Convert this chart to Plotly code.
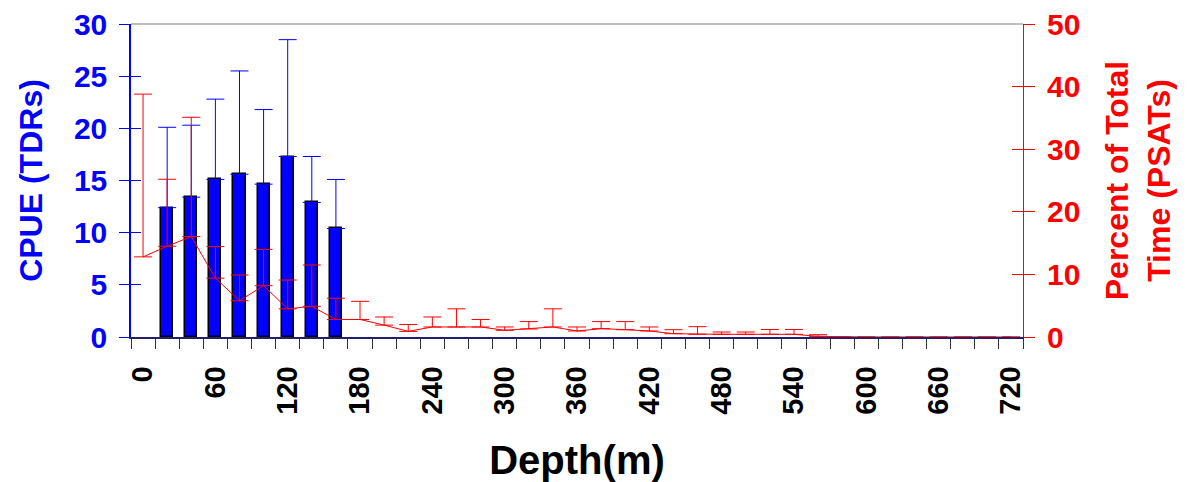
import plotly.graph_objects as go

# ---- data ----
depths = list(range(0, 721, 20))  # depth bins (m)

bar_depths = [20, 40, 60, 80, 100, 120, 140, 160]
cpue_tdr = [12.4, 13.4, 15.1, 15.6, 14.65, 17.3, 12.9, 10.4]
cpue_err = [7.7, 6.9, 7.7, 9.9, 7.15, 11.2, 4.4, 4.7]

pct_time_psat = [12.8, 14.5, 16.05, 9.4, 5.8, 8.2, 4.5, 4.9, 2.8, 2.8,
                 1.9, 0.9, 1.6, 1.6, 1.6, 1.07, 1.28, 1.6, 0.96, 1.33,
                 1.17, 0.96, 0.53, 0.43, 0.43, 0.43, 0.43, 0.43, 0.1, 0,
                 0, 0, 0, 0, 0, 0, 0]
pct_err = [26.0, 10.7, 19.05, 5.05, 4.1, 5.8, 4.6, 6.6, 3.4, 2.9,
           1.3, 1.1, 1.6, 2.9, 1.2, 0.53, 1.18, 2.9, 0.64, 1.13,
           1.29, 0.64, 0.64, 1.22, 0.37, 0.37, 0.77, 0.77, 0.27, 0,
           0, 0, 0, 0, 0, 0, 0]

x_labels = list(range(0, 721, 60))
x_bounds = list(range(-10, 731, 20))
left_ticks = [0, 5, 10, 15, 20, 25, 30]
right_ticks = [0, 10, 20, 30, 40, 50]

FONT = "Arial, 'Liberation Sans', sans-serif"
BLUE = "#0000FF"
RED = "#FF0000"

fig = go.Figure()

fig.add_trace(go.Bar(
    x=bar_depths, y=cpue_tdr, width=10,
    marker=dict(color=BLUE, line=dict(color="black", width=1.5)),
    error_y=dict(type="data", array=cpue_err, arrayminus=[0] * len(cpue_err),
                 symmetric=False, color=BLUE, thickness=1, width=9),
    yaxis="y", showlegend=False,
))

fig.add_trace(go.Scatter(
    x=depths, y=pct_time_psat, mode="lines",
    line=dict(color=RED, width=1),
    error_y=dict(type="data", array=pct_err, arrayminus=[0] * len(pct_err),
                 symmetric=False, color=RED, thickness=1, width=9),
    yaxis="y2", showlegend=False, cliponaxis=False,
))

fig.update_layout(
    width=1186, height=474,
    margin=dict(l=123, r=171, t=16, b=145),
    plot_bgcolor="white", paper_bgcolor="white",
    font=dict(family=FONT),
    bargap=0,
    xaxis=dict(
        range=[-10, 730], tickmode="array", tickvals=x_labels,
        ticktext=[str(v) for v in x_labels], ticks="", tickangle=-90,
        tickfont=dict(size=29, color="black", family=FONT, weight="bold"),
        ticklabelstandoff=16, automargin=False, ticklabeloverflow="allow",
        showgrid=False, zeroline=False,
        showline=True, linecolor="#22226a", linewidth=1.5,
        minor=dict(tickmode="array", tickvals=x_bounds, ticks="outside",
                   ticklen=10, tickcolor="#333333", tickwidth=1),
        title=dict(text="<b>Depth(m)</b>", font=dict(size=40, color="black", family=FONT),
                   standoff=34),
    ),
    yaxis=dict(
        range=[0, 30], tickmode="array", tickvals=left_ticks,
        ticks="outside", ticklen=10, tickcolor=BLUE, tickwidth=1,
        tickfont=dict(size=30, color=BLUE, family=FONT, weight="bold"),
        ticklabelstandoff=6, automargin=False, ticklabeloverflow="allow",
        showgrid=False, zeroline=False,
        showline=True, linecolor=BLUE, linewidth=1.5,
        title=dict(text="<b>CPUE (TDRs)</b>", font=dict(size=32, color=BLUE, family=FONT),
                   standoff=22),
    ),
    yaxis2=dict(
        range=[0, 50], tickmode="array", tickvals=right_ticks,
        overlaying="y", side="right", anchor="x",
        ticks="outside", ticklen=11, tickcolor=RED, tickwidth=1,
        tickfont=dict(size=30, color=RED, family=FONT, weight="bold"),
        ticklabelstandoff=6, automargin=False, ticklabeloverflow="allow",
        showgrid=False, zeroline=False,
        showline=True, linecolor=RED, linewidth=1,
        title=dict(text="<b>Percent of Total<br>Time (PSATs)</b>",
                   font=dict(size=32, color=RED, family=FONT), standoff=26),
    ),
    yaxis3=dict(
        range=[0, 30], tickmode="array", tickvals=left_ticks, overlaying="y",
        side="left", anchor="x", ticks="inside", ticklen=10, tickcolor=BLUE,
        color=BLUE, tickwidth=1, automargin=False,
        showticklabels=False, showgrid=False, zeroline=False, showline=False,
    ),
    yaxis4=dict(
        range=[0, 50], tickmode="array", tickvals=right_ticks, overlaying="y",
        side="right", anchor="x", ticks="inside", ticklen=11, tickcolor=RED,
        color=RED, tickwidth=1, automargin=False,
        showticklabels=False, showgrid=False, zeroline=False, showline=False,
    ),
    shapes=[dict(type="line", xref="paper", yref="paper", x0=0, x1=1, y0=1, y1=1,
                 line=dict(color="#aaaaaa", width=1.5))],
)

# invisible traces to activate the inside-tick axes
fig.add_trace(go.Scatter(x=[None], y=[None], yaxis="y3", showlegend=False, hoverinfo="skip"))
fig.add_trace(go.Scatter(x=[None], y=[None], yaxis="y4", showlegend=False, hoverinfo="skip"))

fig.write_html("out.html")
